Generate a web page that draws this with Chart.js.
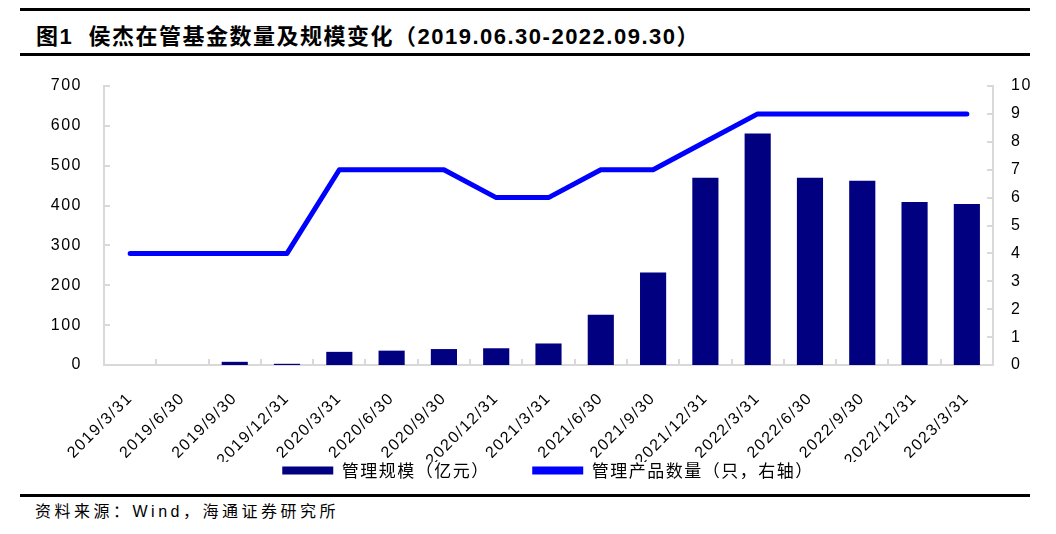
<!DOCTYPE html>
<html>
<head>
<meta charset="utf-8">
<script src="https://cdn.jsdelivr.net/npm/chart.js@4.4.0/dist/chart.umd.min.js"></script>
<style>
  body { margin: 0; width: 1056px; height: 534px; background: #fff; position: relative; overflow: hidden;
         font-family: "Liberation Sans", "Noto Sans CJK SC", sans-serif; }
  .rule { position: absolute; left: 20px; width: 1010px; height: 3px; background: #000; }
  #title { position: absolute; left: 36px; top: 18px; font-size: 22px; font-weight: bold; white-space: pre;
           letter-spacing: 1.5px; }
  #source { position: absolute; left: 35px; top: 498px; font-size: 16px; letter-spacing: 3.5px; }
  #wrap { position: absolute; left: 0; top: 55px; width: 1096px; height: 434px; }
</style>
</head>
<body>
<div class="rule" style="top:8px"></div>
<div id="title">图1  侯杰在管基金数量及规模变化（2019.06.30-2022.09.30）</div>
<div class="rule" style="top:53px"></div>
<div id="wrap"><canvas id="myChart"></canvas></div>
<div class="rule" style="top:494px"></div>
<div id="source">资料来源：Wind，海通证券研究所</div>

<script>
// dates on the x axis
const labels = ["2019/3/31", "2019/6/30", "2019/9/30", "2019/12/31", "2020/3/31", "2020/6/30",
  "2020/9/30", "2020/12/31", "2021/3/31", "2021/6/30", "2021/9/30", "2021/12/31",
  "2022/3/31", "2022/6/30", "2022/9/30", "2022/12/31", "2023/3/31"];
// 管理规模 (亿元), left axis
const scaleValues = [0, 0, 8, 3, 33, 36, 40, 42, 54, 126, 232, 470, 581, 470, 462, 409, 404];
// 管理产品数量 (只), right axis
const fundCount = [4, 4, 4, 4, 7, 7, 7, 6, 6, 7, 7, 8, 9, 9, 9, 9, 9];

const barName = "管理规模（亿元）";
const lineName = "管理产品数量（只，右轴）";

const axisGrey = "#d9d9d9";

// chart text is a little letter-spaced in the original
const spacing = {
  id: "spacing",
  beforeLayout(chart) { chart.ctx.letterSpacing = "1.5px"; },
  beforeDraw(chart) { chart.ctx.letterSpacing = "1.5px"; }
};

// short tick marks pointing into the plot
const innerTicks = {
  id: "innerTicks",
  afterDraw(chart) {
    const ctx = chart.ctx;
    const x = chart.scales.x, y = chart.scales.y, y1 = chart.scales.y1;
    const area = chart.chartArea;
    const half = (x.getPixelForValue(1) - x.getPixelForValue(0)) / 2;
    ctx.save();
    ctx.strokeStyle = axisGrey;
    ctx.lineWidth = 2;
    ctx.beginPath();
    for (let i = 0; i <= labels.length; i++) {
      const px = Math.round(x.getPixelForValue(i) - half);
      ctx.moveTo(px, area.bottom);
      ctx.lineTo(px, area.bottom - 6);
    }
    y.ticks.forEach(t => {
      const py = Math.round(y.getPixelForValue(t.value));
      ctx.moveTo(area.left, py);
      ctx.lineTo(area.left + 6, py);
    });
    y1.ticks.forEach(t => {
      const py = Math.round(y1.getPixelForValue(t.value));
      ctx.moveTo(area.right, py);
      ctx.lineTo(area.right - 6, py);
    });
    ctx.stroke();
    ctx.restore();
  }
};

const ctx = document.getElementById("myChart").getContext("2d");
new Chart(ctx, {
  type: "bar",
  data: {
    labels: labels,
    datasets: [
      {
        type: "bar",
        label: barName,
        data: scaleValues,
        backgroundColor: "#000080",
        barPercentage: 0.5,
        categoryPercentage: 1,
        yAxisID: "y",
        order: 2
      },
      {
        type: "line",
        label: lineName,
        data: fundCount,
        borderColor: "#0000ff",
        backgroundColor: "#0000ff",
        borderWidth: 5,
        borderCapStyle: "round",
        borderJoinStyle: "round",
        pointRadius: 0,
        tension: 0,
        yAxisID: "y1",
        order: 1
      }
    ]
  },
  options: {
    responsive: true,
    maintainAspectRatio: false,
    animation: false,
    layout: { padding: { top: 31, left: 0, right: 0, bottom: 0 } },
    plugins: {
      tooltip: { enabled: false },
      legend: {
        position: "bottom",
        labels: {
          color: "#000",
          font: { family: "'Noto Sans CJK SC', sans-serif", size: 17 },
          boxWidth: 51,
          boxHeight: 8,
          padding: 0,
          generateLabels: () => [
            { text: barName + "        ", fillStyle: "#000080", strokeStyle: "#000080", lineWidth: 0, datasetIndex: 0 },
            { text: lineName, fillStyle: "#0000ff", strokeStyle: "#0000ff", lineWidth: 0, datasetIndex: 1 }
          ]
        }
      }
    },
    scales: {
      x: {
        grid: { display: false },
        border: { color: axisGrey, width: 2 },
        ticks: {
          color: "#000",
          font: { family: "'Liberation Sans', Arial", size: 16 },
          minRotation: 45,
          maxRotation: 45,
          padding: 16
        },
        afterFit(scale) { scale.height = 97; }
      },
      y: {
        position: "left",
        min: 0,
        max: 700,
        grid: { display: false },
        border: { color: axisGrey, width: 2 },
        ticks: {
          stepSize: 100,
          color: "#000",
          font: { family: "'Liberation Sans', Arial", size: 16 },
          padding: 14
        },
        afterFit(scale) { scale.width = 104; }
      },
      y1: {
        position: "right",
        min: 0,
        max: 10,
        grid: { display: false },
        border: { color: axisGrey, width: 2 },
        ticks: {
          stepSize: 1,
          color: "#000",
          font: { family: "'Liberation Sans', Arial", size: 16 },
          padding: 10
        },
        // canvas runs 40px past the page so the legend centres like the original
        afterFit(scale) { scale.width = 103; }
      }
    }
  },
  plugins: [spacing, innerTicks]
});
</script>
</body>
</html>
